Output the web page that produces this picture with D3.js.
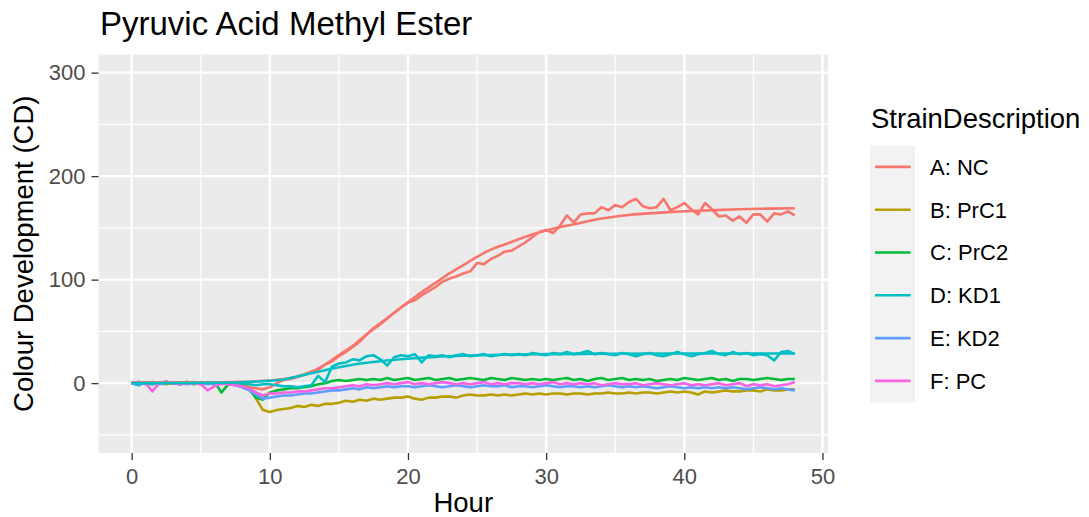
<!DOCTYPE html>
<html><head><meta charset="utf-8">
<script src="https://cdn.jsdelivr.net/npm/d3@7"></script>
<style>body{margin:0;background:#fff}svg{display:block}text{font-family:"Liberation Sans",Arial,Helvetica,sans-serif}</style>
</head><body>
<svg id="c" width="1089" height="517"></svg>
<script>
const chartTitle = "Pyruvic Acid Methyl Ester";
const xTitle = "Hour";
const yTitle = "Colour Development (CD)";
const legendTitle = "StrainDescription";
const strains = ["A: NC","B: PrC1","C: PrC2","D: KD1","E: KD2","F: PC"];
const colors = ["#F8766D","#B79F00","#00BA38","#00BFC4","#619CFF","#F564E3"];
const xTicks = [0,10,20,30,40,50];
const yTicks = [0,100,200,300];

const hours = [0,0.5,1,1.5,2,2.5,3,3.5,4,4.5,5,5.5,6,6.5,7,7.5,8,8.5,9,9.5,
 10,10.5,11,11.5,12,12.5,13,13.5,14,14.5,15,15.5,16,16.5,17,17.5,18,18.5,19,19.5,
 20,20.5,21,21.5,22,22.5,23,23.5,24,24.5,25,25.5,26,26.5,27,27.5,28,28.5,29,29.5,
 30,30.5,31,31.5,32,32.5,33,33.5,34,34.5,35,35.5,36,36.5,37,37.5,38,38.5,39,39.5,
 40,40.5,41,41.5,42,42.5,43,43.5,44,44.5,45,45.5,46,46.5,47,47.5,48];

const seriesA = [0,1,-1,1,0,1.5,0,-1,1,0, -1,1,0,-1,0,-2,-3,-4,-5,-6,
 -4,0,3,4,6,8,10,13,18,21, 26,30,35,40,47,53,58,63,68,73,
 78,80,85,89,93,98,101,103,106,108, 116,115,120,123,127,128,132,136,141,146,
 148,145,152,162,155,163,164,164,170,167, 172,170,175,178,171,169,170,178,167,170,
 174,168,163,174,168,161,162,157,161,155, 163,163,156,164,163,166,162];
const seriesB = [0,0.5,-0.5,1,0,-1,0.5,0,1,-0.5, 0,0.5,-1,0,0.5,-0.5,0,-4,-15,-26,
 -28,-26,-25,-24,-22,-23,-21,-22,-20,-20, -19,-17,-18,-16,-17,-15,-16,-15,-14,-14,
 -13,-15,-16,-14,-14,-13,-13,-14,-12,-11, -12,-12,-11,-12,-11,-12,-11,-10,-11,-10,
 -11,-10,-10,-11,-10,-10,-11,-10,-10,-9, -10,-10,-9,-10,-9,-9,-10,-9,-8,-9,
 -8,-9,-11,-8,-9,-8,-7,-8,-8,-7, -7,-8,-6,-7,-7,-6,-6];
const seriesC = [0,1,0,-1,0,1,0,0,1,-1, 1,0,1,-9,-1,0,-3,-6,-14,-16,
 -9,-7,-6,-5,-5,-4,-3,-1,0,2, 3,2,3,4,3,4,3,5,3,4,
 5,3,4,5,3,4,5,3,4,5, 4,3,5,4,3,5,4,3,4,3,
 4,3,4,5,3,4,2,4,5,3, 4,5,3,4,3,4,2,3,4,3,
 5,4,3,4,5,3,4,2,4,4, 3,4,5,4,3,4,4];
const seriesD = [0,-2,1,0,0,1,0,-1,0,1, 0,0,-1,0,0,-1,0,-1,-2,-1,
 -1,-2,-3,-3,-4,-3,-2,7,1,16, 19,20,23,22,26,27,23,17,25,27,
 26,28,20,27,26,27,25,27,28,26, 27,28,26,27,28,27,28,27,29,28,
 27,29,28,30,28,29,31,28,29,28, 27,29,28,26,28,29,27,26,28,30,
 28,26,28,29,31,28,27,30,28,29, 27,28,27,22,30,31,28];
const seriesE = [0,-1,0,0,-1,0,1,0,-1,0, 0,-1,0,0,-1,-2,-4,-7,-11,-15,
 -14,-13,-12,-12,-11,-10,-10,-9,-8,-7, -7,-6,-5,-6,-4,-5,-4,-3,-4,-3,
 -3,-4,-3,-2,-3,-4,-3,-2,-3,-4, -3,-2,-3,-3,-2,-4,-3,-3,-4,-3,
 -2,-3,-4,-3,-3,-4,-3,-4,-3,-2, -3,-4,-3,-4,-3,-4,-5,-4,-3,-4,
 -5,-4,-5,-4,-5,-4,-5,-4,-5,-6, -5,-4,-5,-6,-5,-6,-7];
const seriesF = [0,1,0,-8,0,1,0,-1,0,0, -1,-7,-3,0,-1,-2,-3,-5,-9,-12,
 -10,-10,-9,-9,-8,-8,-7,-6,-5,-5, -4,-3,-2,-3,-1,-2,-1,0,-1,0,
 1,-1,0,-1,0,1,0,-1,0,-1, 0,1,-1,0,-1,0,0,-1,0,-1,
 0,1,-1,0,-1,0,-1,0,-2,-1, 0,-1,-1,0,-2,-1,0,-1,-2,-1,
 0,-2,-1,-2,-1,0,-2,-1,0,-3, -1,-2,-1,-3,-2,-1,1];

const fitHoursA = [0,2,4,6,8,9,10,11,12,13,14,15,16,17,18,19,20,21,22,23,24,25,26,27,28,29,30,32,34,36,38,40,42,44,46,48];
const fitA = [0.5,0.5,0.6,0.8,1.2,1.8,2.5,4,6.5,11,18,27,36,47,57,68,78,88,97,106,114,122,129,134,139,143.5,147.5,153.5,159,162.5,164.5,166,167,168,168.6,169];
const fitHoursD = [0,4,6,8,9,10,11,12,13,14,15,16,17,18,20,22,24,26,28,30,34,40,48];
const fitD = [0,0.1,0.3,0.8,1.5,2.3,3.5,6.5,9.5,12.5,15.3,17.8,19.7,21.2,23.6,25.4,26.5,27.2,27.7,28,28.4,28.6,28.7];

const allSeries = [seriesA, seriesB, seriesC, seriesD, seriesE, seriesF];
const fits = [{h: fitHoursA, v: fitA, i: 0}, {h: fitHoursD, v: fitD, i: 3}];

const svg = d3.select("#c");
const P = {l: 98.5, r: 828, t: 54.5, b: 453};
const x = d3.scaleLinear().domain([-2.4, 50.4]).range([P.l, P.r]);
const y = d3.scaleLinear().domain([-67.5, 317.5]).range([P.b, P.t]);

svg.append("rect").attr("x", P.l).attr("y", P.t).attr("width", P.r - P.l).attr("height", P.b - P.t).attr("fill", "#EBEBEB");

const g = svg.append("g");
const xMinor = [5,15,25,35,45], yMinor = [-50,50,150,250];
g.selectAll(".xm").data(xMinor).join("line").attr("x1", d => x(d)).attr("x2", d => x(d)).attr("y1", P.t).attr("y2", P.b).attr("stroke", "#fff").attr("stroke-width", 1.2);
g.selectAll(".ym").data(yMinor).join("line").attr("y1", d => y(d)).attr("y2", d => y(d)).attr("x1", P.l).attr("x2", P.r).attr("stroke", "#fff").attr("stroke-width", 1.2);
g.selectAll(".xM").data(xTicks).join("line").attr("x1", d => x(d)).attr("x2", d => x(d)).attr("y1", P.t).attr("y2", P.b).attr("stroke", "#fff").attr("stroke-width", 2.4);
g.selectAll(".yM").data(yTicks).join("line").attr("y1", d => y(d)).attr("y2", d => y(d)).attr("x1", P.l).attr("x2", P.r).attr("stroke", "#fff").attr("stroke-width", 2.4);

const line = d3.line().x(d => x(d[0])).y(d => y(d[1]));
allSeries.forEach((s, i) => {
  svg.append("path").datum(hours.map((h, k) => [h, s[k]]))
    .attr("d", line).attr("fill", "none").attr("stroke", colors[i]).attr("stroke-width", 2.6).attr("stroke-linejoin", "round");
});
const smooth = d3.line().x(d => x(d[0])).y(d => y(d[1])).curve(d3.curveMonotoneX);
fits.forEach(f => {
  svg.append("path").datum(f.h.map((h, k) => [h, f.v[k]]))
    .attr("d", smooth).attr("fill", "none").attr("stroke", colors[f.i]).attr("stroke-width", 2.6);
});

// axes
const xAxis = svg.append("g").attr("transform", `translate(0,${P.b})`)
  .call(d3.axisBottom(x).tickValues(xTicks).tickSize(7).tickSizeOuter(0).tickPadding(8));
const yAxis = svg.append("g").attr("transform", `translate(${P.l},0)`)
  .call(d3.axisLeft(y).tickValues(yTicks).tickSize(7).tickSizeOuter(0).tickPadding(6));
[xAxis, yAxis].forEach(a => {
  a.select(".domain").remove();
  a.selectAll(".tick line").attr("stroke", "#333333").attr("stroke-width", 1.3);
  a.selectAll(".tick text").attr("fill", "#4D4D4D").style("font-size", "22px").style("font-family", '"Liberation Sans",Arial,sans-serif');
});
xAxis.selectAll(".tick text").attr("dy", "0.71em");

svg.append("text").attr("x", 100).attr("y", 35).text(chartTitle).style("font-size", "33px").attr("fill", "#000");
svg.append("text").attr("x", (P.l + P.r) / 2).attr("y", 512).attr("text-anchor", "middle").text(xTitle).style("font-size", "27.5px").attr("fill", "#000");
svg.append("text").attr("transform", `translate(33,${(P.t + P.b) / 2}) rotate(-90)`).attr("text-anchor", "middle").text(yTitle).style("font-size", "27.5px").attr("fill", "#000");

// legend
const L = svg.append("g");
L.append("text").attr("x", 871).attr("y", 128).text(legendTitle).style("font-size", "27.5px").attr("fill", "#000");
const keyH = 42.8, keyTop = 145.5;
L.append("rect").attr("x", 870).attr("y", keyTop).attr("width", 45).attr("height", keyH * strains.length).attr("fill", "#F2F2F2");
const items = L.selectAll(".it").data(strains).join("g").attr("transform", (d, i) => `translate(0,${keyTop + keyH * i + keyH / 2})`);
items.append("line").attr("x1", 875).attr("x2", 910.5).attr("y1", 0).attr("y2", 0).attr("stroke", (d, i) => colors[i]).attr("stroke-width", 2.6);
items.append("text").attr("x", 930).attr("y", 7.9).text(d => d).style("font-size", "22px").attr("fill", "#000");
</script>
</body></html>
